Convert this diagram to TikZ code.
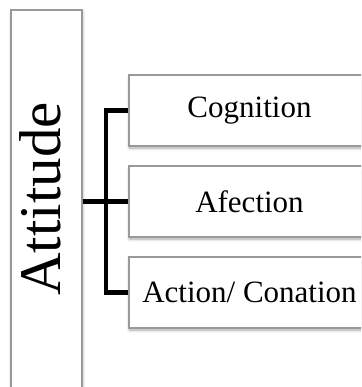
\documentclass[tikz,border=0pt]{standalone}
\usepackage{fontspec}
\setmainfont{Liberation Serif}
\usetikzlibrary{shadows.blur}
\begin{document}
\begin{tikzpicture}[x=1pt,y=-1pt,
  panel/.style={draw=black!40, line width=1.1pt, fill=white, inner sep=0pt,
    blur shadow={shadow xshift=0.5pt, shadow yshift=-2pt, shadow blur steps=6, shadow blur radius=3pt, shadow opacity=35}},
  leaf/.style={panel, minimum width=241pt, minimum height=71pt,
    font=\fontsize{31}{36}\selectfont},
  conn/.style={line width=4.5pt, line join=miter, line cap=butt}]
\useasboundingbox (0,0) rectangle (361,387);
\clip (0,0) rectangle (361,387);
\node[panel, minimum width=71pt, minimum height=410pt] (att) at (46.5,215) {};
\node[rotate=90, anchor=base, inner sep=0pt, font=\fontsize{59}{66}\selectfont] (attl) at (60,199) {Attitude};
\node[leaf] (b1) at (249.5,110.5) {Cognition};
\node[leaf] (b2) at (249.5,201.5) {Afection};
\node[leaf] (b3) at (249.5,292.5) {Action/ Conation};
\coordinate (j) at (106,201.5);
\draw[conn] (b1.west) -| (j) |- (b3.west);
\draw[conn] (att.east |- b2.west) -- (b2.west);
\end{tikzpicture}
\end{document}
